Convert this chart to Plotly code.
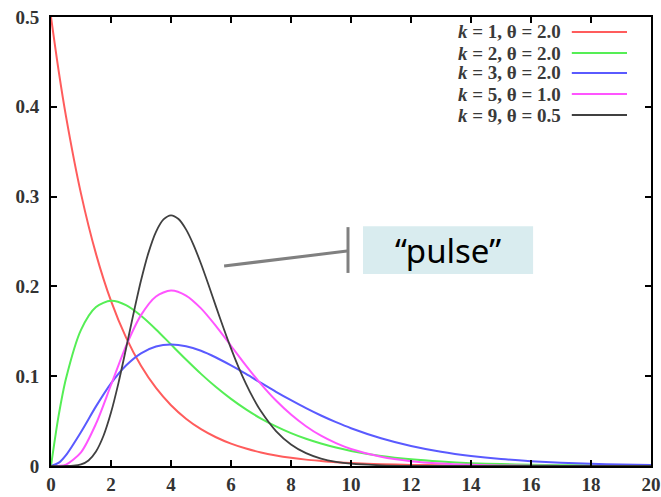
import plotly.graph_objects as go

x_vals = [0, 0.25, 0.5, 1.0, 1.5, 2.0, 2.5, 3.0, 3.5, 4.0, 4.5, 5.0, 5.5, 6.0, 6.5, 7.0,
          7.5, 8.0, 8.5, 9.0, 9.5, 10.0, 11, 12, 13, 14, 15, 16, 17, 18, 19, 20]

k1_t2 = [0.5, 0.4412, 0.3894, 0.3033, 0.2362, 0.1839, 0.1433, 0.1116, 0.0869, 0.0677, 0.0527,
         0.0410, 0.0320, 0.0249, 0.0194, 0.0151, 0.0118, 0.0092, 0.0071, 0.0056, 0.0043, 0.0034,
         0.0020, 0.0012, 0.0008, 0.0005, 0.0003, 0.0002, 0.0001, 0.0001, 0.0000, 0.0000]
k2_t2 = [0, 0.0552, 0.0974, 0.1516, 0.1771, 0.1839, 0.1791, 0.1673, 0.1521, 0.1353, 0.1186,
         0.1026, 0.0879, 0.0747, 0.0630, 0.0528, 0.0441, 0.0366, 0.0303, 0.0250, 0.0205, 0.0168,
         0.0112, 0.0074, 0.0049, 0.0032, 0.0021, 0.0013, 0.0009, 0.0006, 0.0004, 0.0002]
k3_t2 = [0, 0.0034, 0.0122, 0.0379, 0.0664, 0.0920, 0.1119, 0.1255, 0.1331, 0.1353, 0.1334,
         0.1283, 0.1208, 0.1120, 0.1025, 0.0925, 0.0826, 0.0733, 0.0644, 0.0562, 0.0488, 0.0421,
         0.0309, 0.0223, 0.0159, 0.0112, 0.0078, 0.0054, 0.0037, 0.0025, 0.0017, 0.0011]
k5_t1 = [0, 0.0001, 0.0016, 0.0153, 0.0471, 0.0902, 0.1336, 0.1680, 0.1888, 0.1954, 0.1898,
         0.1755, 0.1558, 0.1339, 0.1118, 0.0912, 0.0729, 0.0573, 0.0443, 0.0337, 0.0254, 0.0189,
         0.0102, 0.0053, 0.0027, 0.0013, 0.0006, 0.0003, 0.0001, 0.0001, 0.0000, 0.0000]

x_k9 = [0, 0.5, 0.75, 1.0, 1.25, 1.5, 1.75, 2.0, 2.25, 2.5, 2.75, 3.0, 3.25, 3.5, 3.75, 4.0,
        4.25, 4.5, 4.75, 5.0, 5.25, 5.5, 5.75, 6.0, 6.25, 6.5, 6.75, 7.0, 7.5, 8.0, 8.5, 9.0,
        9.5, 10.0, 11, 12, 13, 14, 16, 18, 20]
k9_t05 = [0, 0.0000, 0.0003, 0.0017, 0.0062, 0.0162, 0.0337, 0.0595, 0.0926, 0.1306, 0.1697,
          0.2065, 0.2376, 0.2608, 0.2746, 0.2792, 0.2750, 0.2635, 0.2463, 0.2252, 0.2018,
          0.1775, 0.1537, 0.1310, 0.1102, 0.0915, 0.0750, 0.0609, 0.0389, 0.0240, 0.0143,
          0.0083, 0.0047, 0.0026, 0.0008, 0.0002, 0.0001, 0, 0, 0, 0]

series_labels = ["<i>k</i> = 1, θ = 2.0", "<i>k</i> = 2, θ = 2.0", "<i>k</i> = 3, θ = 2.0",
                 "<i>k</i> = 5, θ = 1.0", "<i>k</i> = 9, θ = 0.5"]
series_x = [x_vals, x_vals, x_vals, x_vals, x_k9]
series_values = [k1_t2, k2_t2, k3_t2, k5_t1, k9_t05]
series_colors = ["#ff5c5c", "#55ee55", "#5a5aff", "#ff55ff", "#404040"]
series_widths = [2, 2, 2, 2, 1.8]

x_ticks = [0, 2, 4, 6, 8, 10, 12, 14, 16, 18, 20]
y_ticks = [0, 0.1, 0.2, 0.3, 0.4, 0.5]
y_tick_text = ["0", "0.1", "0.2", "0.3", "0.4", "0.5"]

fig = go.Figure()
for lab, xs, vals, col, w in zip(series_labels, series_x, series_values, series_colors, series_widths):
    fig.add_trace(go.Scatter(x=xs, y=vals, mode="lines", name=lab,
                             line=dict(color=col, width=w, shape="spline", smoothing=0.8),
                             showlegend=False))

tick_font = dict(family="Liberation Serif", size=19, color="#333333", weight="bold")
axis_common = dict(showline=True, linecolor="black", linewidth=2, mirror="ticks",
                   ticks="inside", ticklen=6, tickwidth=1.5, tickcolor="black",
                   showgrid=False, zeroline=False, tickfont=tick_font, automargin=False)

fig.update_xaxes(range=[0, 20], tickvals=x_ticks, **axis_common)
fig.update_yaxes(range=[0, 0.5], tickvals=y_ticks, ticktext=y_tick_text,
                 ticklabelstandoff=6, **axis_common)

# manual legend (text right, line sample on the right)
leg_rows = [0.9666, 0.9198, 0.8753, 0.8285, 0.7817]
for lab, col, w, yy in zip(series_labels, series_colors, series_widths, leg_rows):
    fig.add_annotation(xref="paper", yref="paper", x=0.853, y=yy, text=lab,
                       showarrow=False, xanchor="right", yanchor="middle",
                       font=dict(family="Liberation Serif", size=19, color="#3a3a3a",
                                 weight="bold"))
    fig.add_shape(type="line", xref="paper", yref="paper", x0=0.868, x1=0.96, y0=yy, y1=yy,
                  line=dict(color=col, width=w))

# "pulse" callout
fig.add_shape(type="rect", x0=10.4, x1=16.07, y0=0.2138, y1=0.267,
              fillcolor="#d9ecef", line=dict(width=0), layer="above")
fig.add_shape(type="line", x0=5.77, y0=0.2227, x1=9.87, y1=0.2394,
              line=dict(color="#808080", width=3))
fig.add_shape(type="line", x0=9.9, y0=0.215, x1=9.9, y1=0.266,
              line=dict(color="#808080", width=3))
fig.add_annotation(x=13.23, y=0.2404, text="“pulse”", showarrow=False,
                   font=dict(family="Noto Sans", size=33, color="black"))

fig.update_layout(width=661, height=497, margin=dict(l=51, r=10, t=17, b=31),
                  plot_bgcolor="white", paper_bgcolor="white", showlegend=False)

fig.write_html("out.html")
